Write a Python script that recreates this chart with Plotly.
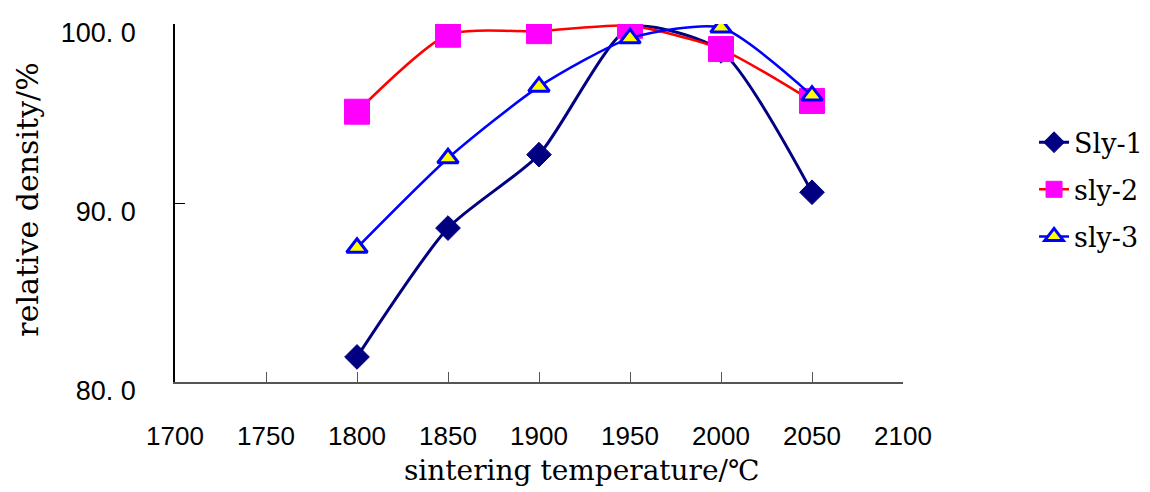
import plotly.graph_objects as go

temps = [1800, 1850, 1900, 1950, 2000, 2050]
sly1 = [81.4, 88.6, 92.7, 99.8, 98.5, 90.6]
sly2 = [95.1, 99.4, 99.6, 99.9, 98.6, 95.7]
sly3 = [87.5, 92.5, 96.5, 99.2, 99.8, 96.0]
names = ["Sly-1", "sly-2", "sly-3"]
x_ticks = [1700, 1750, 1800, 1850, 1900, 1950, 2000, 2050, 2100]
y_ticks = [80, 90, 100]
y_ticktext = ["80. 0", "90. 0", "100. 0"]
x_title = "sintering temperature/℃"
y_title = "relative density/%"

SM = 0.65
fig = go.Figure()
fig.add_trace(go.Scatter(
    x=temps, y=sly1, name=names[0], legendgroup="a", mode="lines+markers",
    line=dict(color="#000080", width=3, shape="spline", smoothing=SM),
    marker=dict(symbol="diamond", size=19, color="#000080",
                line=dict(color="#000080", width=1))))
fig.add_trace(go.Scatter(
    x=temps, y=sly2, name=names[1], legendgroup="b", mode="lines+markers",
    line=dict(color="#FF0000", width=2.5, shape="spline", smoothing=SM),
    marker=dict(symbol="square", size=25, color="#FF00FF",
                line=dict(color="#FF00FF", width=1))))
fig.add_trace(go.Scatter(
    x=temps, y=sly3, name=names[2], legendgroup="c", mode="lines+markers",
    line=dict(color="#0000FF", width=2.5, shape="spline", smoothing=SM),
    marker=dict(symbol="triangle-up", size=18, color="#FFFF00",
                line=dict(color="#0000FF", width=3))))

serif = "DejaVu Serif"
sans = "Liberation Sans"

fig.update_layout(
    width=1150, height=492,
    margin=dict(l=167, r=255, t=16, b=118, autoexpand=False),
    paper_bgcolor="white", plot_bgcolor="white",
    showlegend=True,
    legend=dict(x=1.18, y=0.737, xanchor="left", yanchor="top",
                font=dict(family=serif, size=27, color="black"),
                tracegroupgap=9, bgcolor="rgba(0,0,0,0)"),
    xaxis=dict(range=[1700, 2100], tickvals=x_ticks, ticks="inside",
               ticklen=10, tickcolor="#555555", showline=True,
               linecolor="#555555", linewidth=1.5, showgrid=False,
               zeroline=False, ticklabelstandoff=30, automargin=False,
               tickfont=dict(family=sans, size=26, color="black")),
    yaxis=dict(range=[80, 100], tickvals=y_ticks, ticktext=y_ticktext,
               ticks="inside", ticklen=10, tickcolor="black",
               showline=True, linecolor="black", linewidth=1.5,
               showgrid=False, zeroline=False, ticklabelstandoff=32,
               ticklabelshift=9, automargin=False,
               tickfont=dict(family=sans, size=27, color="black")),
    annotations=[
        dict(text=x_title, xref="paper", yref="paper", x=0.559, y=-0.246,
             xanchor="center", yanchor="middle", showarrow=False,
             font=dict(family=serif, size=28, color="black")),
        dict(text=y_title, xref="paper", yref="paper", x=-0.203, y=0.51,
             xanchor="center", yanchor="middle", showarrow=False,
             textangle=-90,
             font=dict(family=serif, size=30, color="black")),
    ],
)

fig.write_html("out.html")
